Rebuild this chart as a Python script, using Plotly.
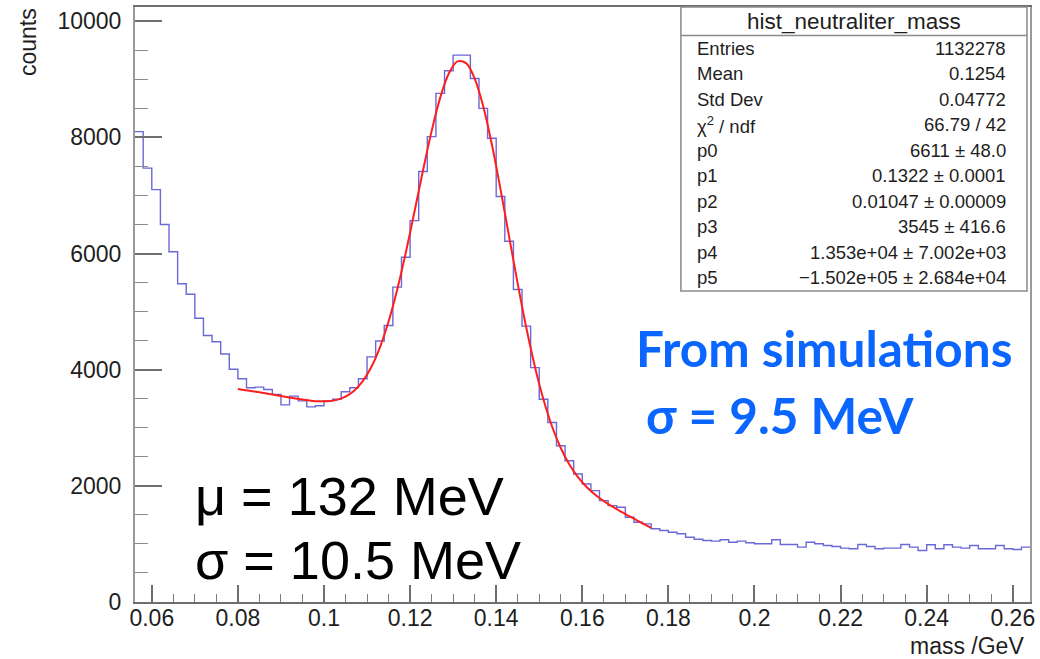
import plotly.graph_objects as go

# ---------------- data ----------------
BIN_LO = 0.056
BIN_W = 0.002
COUNTS = [8100, 7470, 7100, 6500, 6030, 5480, 5300, 4885, 4590, 4480,
          4270, 4007, 3845, 3690, 3700, 3660, 3575, 3395, 3545, 3463,
          3360, 3380, 3463, 3492, 3620, 3690, 3845, 4220, 4493, 4760,
          5421, 5936, 6566, 7412, 8013, 8757, 9147, 9416, 9416, 9015,
          8500, 7984, 6983, 6211, 5381, 4751, 4035, 3492, 3091, 2691,
          2433, 2205, 2033, 1918, 1746, 1660, 1631, 1460, 1374, 1346,
          1260, 1231, 1202, 1174, 1116, 1080, 1059, 1048, 1071, 1030,
          1048, 1019, 1002, 1002, 1071, 991, 991, 945, 1030, 1002,
          974, 956, 928, 916, 991, 956, 916, 928, 928, 991,
          945, 888, 985, 916, 985, 945, 928, 974, 916, 916,
          974, 916, 905, 945]

FIT_X = [0.080, 0.081, 0.083, 0.085, 0.087, 0.089, 0.091, 0.093, 0.095, 0.097,
         0.099, 0.101, 0.103, 0.105, 0.107, 0.109, 0.111, 0.113, 0.115, 0.117,
         0.119, 0.121, 0.123, 0.125, 0.127, 0.129, 0.131, 0.133, 0.135, 0.137,
         0.139, 0.141, 0.143, 0.145, 0.147, 0.149, 0.151, 0.153, 0.155, 0.157,
         0.159, 0.161, 0.163, 0.165, 0.167, 0.169, 0.171, 0.173, 0.175, 0.176]
FIT_Y = [3666, 3655, 3633, 3610, 3586, 3561, 3535, 3510, 3487, 3467,
         3456, 3457, 3480, 3536, 3638, 3803, 4047, 4386, 4829, 5377,
         6014, 6714, 7430, 8108, 8685, 9101, 9308, 9279, 9013, 8531,
         7877, 7110, 6292, 5481, 4722, 4051, 3482, 3018, 2651, 2367,
         2149, 1980, 1847, 1737, 1642, 1556, 1474, 1394, 1314, 1275]

X_TICKS = [0.06, 0.08, 0.10, 0.12, 0.14, 0.16, 0.18, 0.20, 0.22, 0.24, 0.26]
X_TICK_TEXT = ["0.06", "0.08", "0.1", "0.12", "0.14", "0.16", "0.18", "0.2", "0.22", "0.24", "0.26"]
Y_TICKS = [0, 2000, 4000, 6000, 8000, 10000]
Y_TICK_TEXT = ["0", "2000", "4000", "6000", "8000", "10000"]

STAT_TITLE = "hist_neutraliter_mass"
STAT_LABELS = ["Entries", "Mean", "Std Dev", "χ<sup>2</sup> / ndf", "p0", "p1", "p2", "p3", "p4", "p5"]
STAT_VALUES = ["1132278", "0.1254", "0.04772", "66.79 / 42", "6611 ± 48.0",
               "0.1322 ± 0.0001", "0.01047 ± 0.00009", "3545 ± 416.6",
               "1.353e+04 ± 7.002e+03", "−1.502e+05 ± 2.684e+04"]

# ---------------- layout geometry (pixels) ----------------
W, H = 1040, 659
L, R, T, B = 135, 1031, 5, 602
X_RANGE = [0.0561, 0.264]
Y_RANGE = [0, 10245]


def px(x):
    return (x - L) / (R - L)


def py(y):
    return (B - y) / (B - T)


edges = [BIN_LO + BIN_W * i for i in range(len(COUNTS) + 1)]
step_y = COUNTS + [COUNTS[-1]]

fig = go.Figure()
fig.add_trace(go.Scatter(x=edges, y=step_y, mode="lines", line_shape="hv",
                         line=dict(color="rgb(105,105,215)", width=1.4),
                         hoverinfo="skip", showlegend=False))
fig.add_trace(go.Scatter(x=FIT_X, y=FIT_Y, mode="lines", line_shape="spline",
                         line=dict(color="rgb(255,30,30)", width=2),
                         hoverinfo="skip", showlegend=False))

FONT = "Liberation Sans, Arial, sans-serif"
TXT = "#1e1e1e"

annotations = []
# axis titles
annotations.append(dict(x=px(28), y=py(40), xref="paper", yref="paper", text="counts",
                        textangle=-90, showarrow=False, xanchor="center", yanchor="middle",
                        font=dict(family=FONT, size=23, color=TXT)))
annotations.append(dict(x=px(1027), y=py(646), xref="paper", yref="paper", text="mass /GeV",
                        showarrow=False, xanchor="right", yanchor="middle",
                        font=dict(family=FONT, size=23, color=TXT)))

# stats box
BOX_L, BOX_R, BOX_T, BOX_B, BOX_SEP = 681.5, 1028, 5, 290, 33.5
shapes = [
    dict(type="rect", xref="paper", yref="paper", x0=px(BOX_L), x1=px(BOX_R),
         y0=py(BOX_B), y1=py(BOX_T), fillcolor="white",
         line=dict(color="#8a8a8a", width=1.5), layer="above"),
    dict(type="line", xref="paper", yref="paper", x0=px(BOX_L), x1=px(BOX_R),
         y0=py(BOX_SEP), y1=py(BOX_SEP), line=dict(color="#8a8a8a", width=1.5), layer="above"),
]
annotations.append(dict(x=px((BOX_L + BOX_R) / 2), y=py(20), xref="paper", yref="paper",
                        text=STAT_TITLE, showarrow=False, xanchor="center", yanchor="middle",
                        font=dict(family=FONT, size=22.5, color=TXT)))
for i, (lab, val) in enumerate(zip(STAT_LABELS, STAT_VALUES)):
    yc = 46.5 + 25.6 * i
    annotations.append(dict(x=px(696), y=py(yc), xref="paper", yref="paper", text=lab,
                            showarrow=False, xanchor="left", yanchor="middle",
                            font=dict(family=FONT, size=18.5, color=TXT)))
    annotations.append(dict(x=px(1009), y=py(yc), xref="paper", yref="paper", text=val,
                            showarrow=False, xanchor="right", yanchor="middle",
                            font=dict(family=FONT, size=18.5, color=TXT)))

# big labels
annotations.append(dict(x=px(193), y=py(496), xref="paper", yref="paper", text="μ = 132 MeV",
                        showarrow=False, xanchor="left", yanchor="middle",
                        font=dict(family=FONT, size=54, color="black")))
annotations.append(dict(x=px(193), y=py(560), xref="paper", yref="paper", text="σ = 10.5 MeV",
                        showarrow=False, xanchor="left", yanchor="middle",
                        font=dict(family=FONT, size=54, color="black")))
BLUE = "#0a66ff"
annotations.append(dict(x=px(635), y=py(347), xref="paper", yref="paper", text="From simulations",
                        showarrow=False, xanchor="left", yanchor="middle",
                        font=dict(family="Lato, 'Open Sans', sans-serif", size=49.5, color=BLUE, weight="bold")))
annotations.append(dict(x=px(645), y=py(414), xref="paper", yref="paper", text="σ = 9.5 MeV",
                        showarrow=False, xanchor="left", yanchor="middle",
                        font=dict(family="Lato, 'Open Sans', sans-serif", size=49.5, color=BLUE, weight="bold")))

fig.update_layout(
    width=W, height=H,
    margin=dict(l=L, r=W - R, t=T, b=H - B, pad=0),
    paper_bgcolor="white", plot_bgcolor="white",
    showlegend=False,
    annotations=annotations, shapes=shapes,
    xaxis=dict(range=X_RANGE, showgrid=False, zeroline=False,
               showline=True, mirror=True, linecolor="#6e6e6e", linewidth=2,
               tickmode="array", tickvals=X_TICKS, ticktext=X_TICK_TEXT,
               ticks="inside", ticklen=17, tickwidth=1.5, tickcolor="#6e6e6e",
               ticklabelstandoff=-6,
               minor=dict(dtick=0.005, tick0=0.06, ticks="inside", ticklen=8,
                          tickwidth=1.2, tickcolor="#7a7a7a", showgrid=False),
               tickfont=dict(family=FONT, size=23, color=TXT)),
    yaxis=dict(range=Y_RANGE, showgrid=False, zeroline=False,
               showline=True, mirror=True, linecolor="#9a9a9a", linewidth=2,
               tickmode="array", tickvals=Y_TICKS, ticktext=Y_TICK_TEXT,
               ticks="inside", ticklen=27, tickwidth=1.5, tickcolor="#6e6e6e",
               ticklabelstandoff=7,
               minor=dict(dtick=500, tick0=0, ticks="inside", ticklen=13,
                          tickwidth=1.2, tickcolor="#8a8a8a", showgrid=False),
               tickfont=dict(family=FONT, size=23, color=TXT)),
)

fig.write_html("out.html")
